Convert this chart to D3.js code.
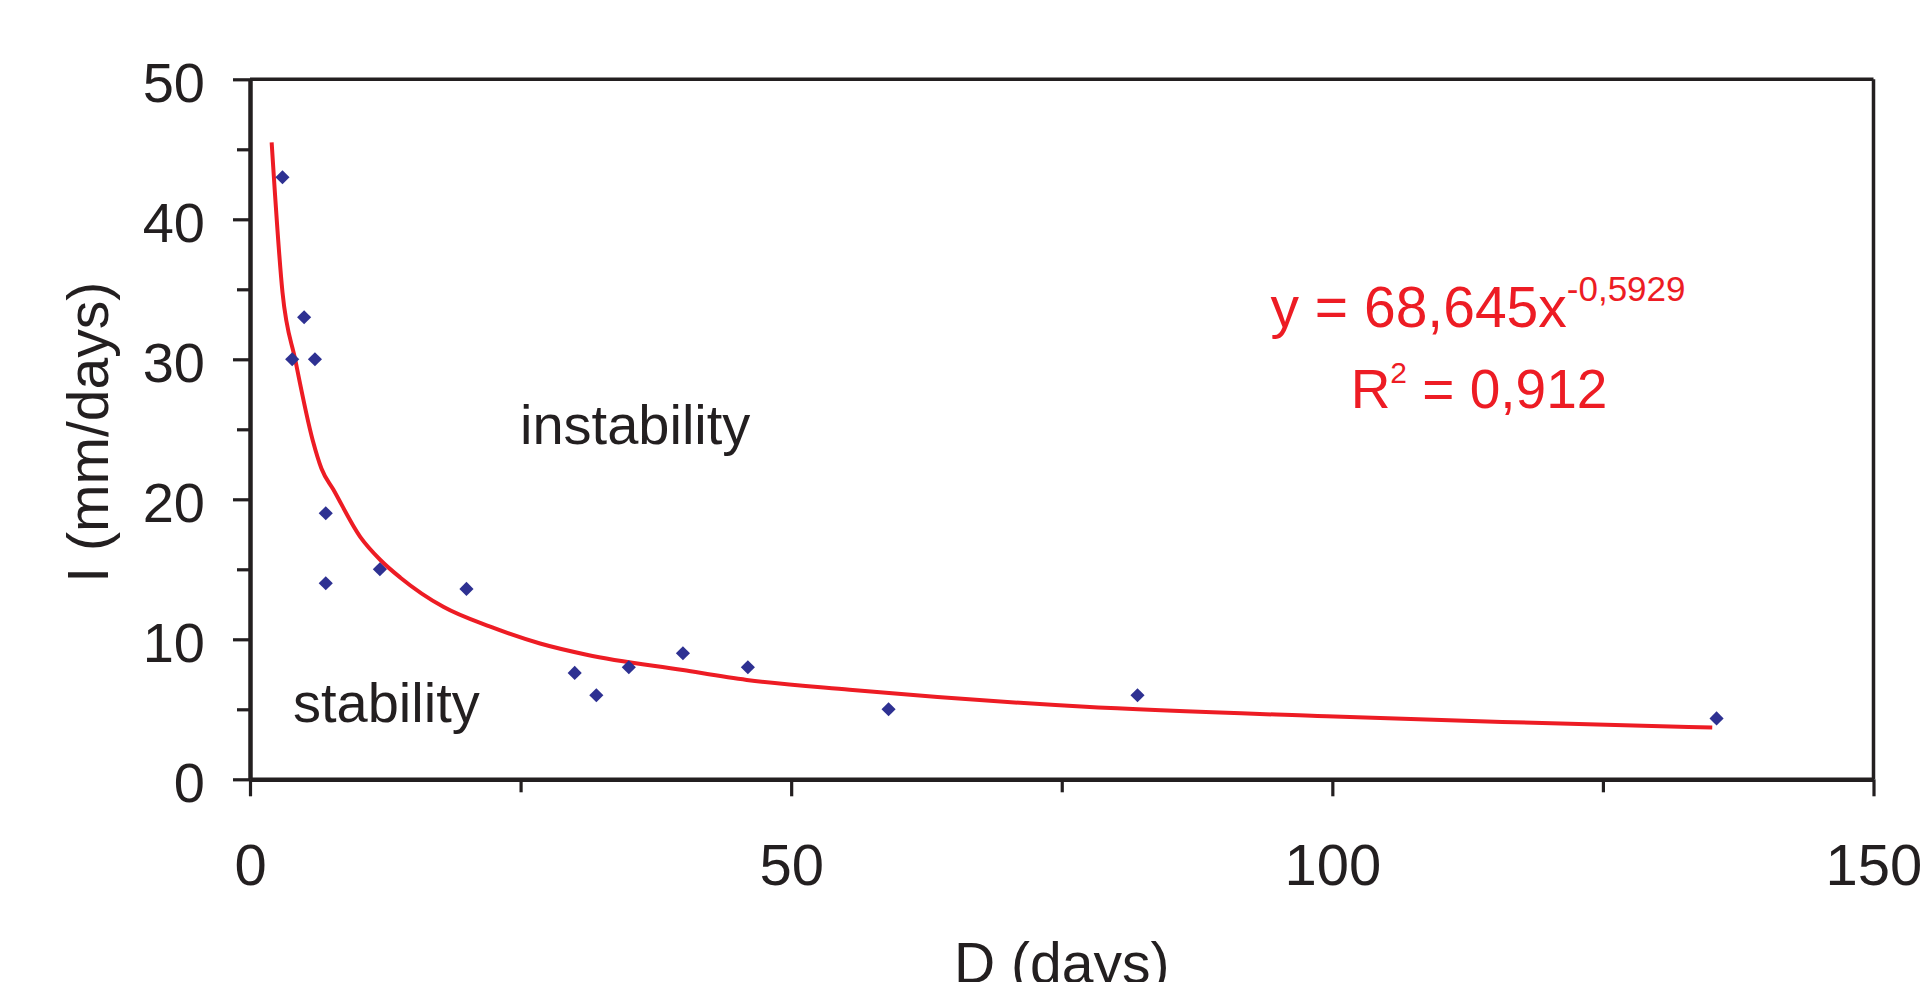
<!DOCTYPE html>
<html>
<head>
<meta charset="utf-8">
<script src="https://cdn.jsdelivr.net/npm/d3@7"></script>
<style>
  body { margin: 0; background: #fff; }
  svg { display: block; font-family: "Liberation Sans", Arial, sans-serif; }
</style>
</head>
<body>
<svg id="chart"></svg>
<script>
// measured points (D in days, I in mm/days)
const durationDays = [3, 3.9, 5, 6, 7, 7, 12, 20, 30, 32, 35, 40, 46, 59, 82, 135.5];
const intensity = [43, 30, 33, 30, 19, 14, 15, 13.6, 7.6, 6, 8, 9, 8, 5, 6, 4.35];

// power trendline
const trendDays = [2, 3, 4.2, 5.8, 6.6, 7.7, 10.2, 12, 13.9, 17.9, 22.2, 26.8, 31.1, 40, 45.9, 55.4, 76.8, 99.5, 115.7, 135.1];
const trendIntensity = [45.5, 34.8, 29.9, 24.2, 22.2, 20.7, 17.3, 15.7, 14.4, 12.3, 10.9, 9.7, 8.9, 7.8, 7.1, 6.4, 5.2, 4.5, 4.1, 3.7];

const xMajor = [0, 50, 100, 150];
const xMinor = [25, 75, 125];
const yMajor = [0, 10, 20, 30, 40, 50];
const yMinor = [5, 15, 25, 35, 45];

const width = 1921;
const height = 982;
const margin = { top: 79.3, right: 47.5, bottom: 202.7, left: 250 };
const innerW = width - margin.left - margin.right;
const innerH = height - margin.top - margin.bottom;

const ink = '#231f20';
const red = '#ed1c24';
const navy = '#2e3192';

const svg = d3.select('#chart')
  .attr('width', width)
  .attr('height', height);

const g = svg.append('g')
  .attr('transform', `translate(${margin.left},${margin.top})`);

const x = d3.scaleLinear().domain([0, 150]).range([0, innerW]);
const y = d3.scaleLinear().domain([0, 50]).range([innerH, 0]);

// frame top and right
g.append('line')
  .attr('x1', 0).attr('x2', innerW).attr('y1', 0).attr('y2', 0)
  .attr('stroke', ink).attr('stroke-width', 3.5);
g.append('line')
  .attr('x1', innerW).attr('x2', innerW).attr('y1', 0).attr('y2', innerH)
  .attr('stroke', ink).attr('stroke-width', 3.5);

// minor ticks
g.append('g')
  .attr('transform', `translate(0,${innerH})`)
  .call(d3.axisBottom(x).tickValues(xMinor).tickSize(13).tickSizeOuter(0).tickFormat(''))
  .call(a => a.select('.domain').remove());
g.append('g')
  .call(d3.axisLeft(y).tickValues(yMinor).tickSize(13).tickSizeOuter(0).tickFormat(''))
  .call(a => a.select('.domain').remove());

// major axes
const xAxis = g.append('g')
  .attr('transform', `translate(0,${innerH})`)
  .call(d3.axisBottom(x).tickValues(xMajor).tickSize(17).tickSizeOuter(0).tickPadding(47.7));
const yAxis = g.append('g')
  .call(d3.axisLeft(y).tickValues(yMajor).tickSize(17).tickSizeOuter(0).tickPadding(28));

[xAxis, yAxis].forEach(a => {
  a.select('.domain').attr('stroke', ink).attr('stroke-width', 4.5);
  a.selectAll('.tick text').attr('fill', ink).attr('font-family', '"Liberation Sans", Arial, sans-serif');
});
g.selectAll('.tick line').attr('stroke', ink).attr('stroke-width', 3.2);
xAxis.selectAll('.tick text').attr('font-size', 58);
yAxis.selectAll('.tick text').attr('font-size', 56).attr('dy', '0.4em');

// axis titles
svg.append('text')
  .attr('x', margin.left + innerW / 2)
  .attr('y', 983)
  .attr('text-anchor', 'middle')
  .attr('font-size', 57)
  .attr('fill', ink)
  .text('D (days)');

svg.append('text')
  .attr('transform', `translate(108,${margin.top + innerH / 2 + 3}) rotate(-90)`)
  .attr('text-anchor', 'middle')
  .attr('font-size', 57)
  .attr('fill', ink)
  .text('I (mm/days)');

// trendline
const trend = trendDays.map((d, i) => ({ d, v: trendIntensity[i] }));
g.append('path')
  .datum(trend)
  .attr('fill', 'none')
  .attr('stroke', red)
  .attr('stroke-width', 4)
  .attr('d', d3.line()
    .x(p => x(p.d))
    .y(p => y(p.v))
    .curve(d3.curveMonotoneX));

// points
const pts = durationDays.map((d, i) => ({ d, v: intensity[i] }));
g.selectAll('path.pt')
  .data(pts)
  .enter()
  .append('path')
  .attr('class', 'pt')
  .attr('d', d3.symbol().type(d3.symbolSquare).size(100))
  .attr('transform', p => `translate(${x(p.d)},${y(p.v)}) rotate(45)`)
  .attr('fill', navy);

// region labels
svg.append('text')
  .attr('x', 520).attr('y', 444)
  .attr('font-size', 56).attr('fill', ink)
  .text('instability');
svg.append('text')
  .attr('x', 293).attr('y', 722)
  .attr('font-size', 56).attr('fill', ink)
  .text('stability');

// equation
const eq = svg.append('text')
  .attr('x', 1478).attr('y', 327)
  .attr('text-anchor', 'middle')
  .attr('fill', red);
eq.append('tspan').attr('font-size', 57).text('y = 68,645x');
eq.append('tspan').attr('font-size', 35).attr('dy', -26).text('-0,5929');

const r2 = svg.append('text')
  .attr('x', 1479).attr('y', 408)
  .attr('text-anchor', 'middle')
  .attr('fill', red);
r2.append('tspan').attr('font-size', 55).text('R');
r2.append('tspan').attr('font-size', 30).attr('dy', -25).text('2');
r2.append('tspan').attr('font-size', 55).attr('dy', 25).text(' = 0,912');
</script>
</body>
</html>
